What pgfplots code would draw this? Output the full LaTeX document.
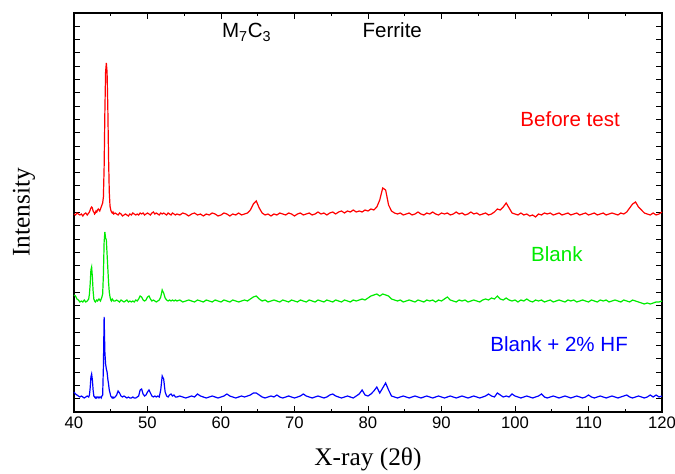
\documentclass[border=0pt]{standalone}
\usepackage{fontspec}
\setmainfont{Liberation Sans}
\newfontfamily\seriffont{Liberation Serif}
\usepackage{pgfplots}
\pgfplotsset{compat=1.18}
\usepackage{pgfplotstable}

\definecolor{xred}{RGB}{255,0,0}
\definecolor{xgreen}{RGB}{0,235,0}
\definecolor{xblue}{RGB}{0,0,255}

% XRD patterns, y in arbitrary (offset) units
\pgfplotstableread{
x r g b
40.0 198 117 20
40.2 197 116 18
40.4 199 113 17
40.6 198 112 16
40.8 197 110 15
41.0 198 111 16
41.2 196 110 15
41.4 198 112 14
41.6 199 110 15
41.8 197 111 16
42.0 199 113 15
42.1 200 118 17
42.2 202 128 24
42.3 204 142 35
42.4 205 145 38
42.5 204 135 32
42.6 201 121 22
42.7 200 113 16
42.8 198 111 15
42.9 199 110 14
43.0 201 111 15
43.1 200 112 14
43.2 202 111 15
43.3 203 112 15
43.4 202 113 14
43.5 201 112 15
43.6 203 111 15
43.7 205 113 14
43.8 207 115 16
43.9 209 118 17
44.0 215 137 45
44.1 245 170 95
44.2 300 180 60
44.3 340 174 48
44.4 349 172 43
44.5 340 158 40
44.6 305 144 33
44.7 255 130 28
44.8 220 120 22
44.9 206 115 19
45.0 202 112 16
45.1 200 111 15
45.2 199 113 14
45.3 200 112 15
45.4 198 111 14
45.6 199 111 15
45.8 198 112 17
46.0 197 111 21
46.2 199 110 19
46.4 198 112 16
46.6 196 111 15
46.8 197 110 16
47.0 198 111 15
47.2 197 112 14
47.4 196 110 15
47.6 198 111 14
47.8 197 110 14
48.0 199 111 15
48.2 198 110 14
48.4 197 112 14
48.6 198 111 15
48.8 197 113 16
49.0 199 116 22
49.2 198 115 23
49.4 199 112 18
49.6 197 111 16
49.8 198 112 17
50.0 199 115 20
50.2 198 116 22
50.4 197 113 19
50.6 199 111 16
50.8 200 112 15
51.0 198 111 16
51.2 199 110 15
51.4 198 111 16
51.6 197 112 15
51.8 199 115 22
52.0 198 122 36
52.2 199 119 33
52.4 198 114 20
52.6 197 112 16
52.8 199 111 15
53.0 198 112 17
53.2 197 111 18
53.4 199 112 16
53.6 198 111 17
53.8 197 112 15
54.0 198 111 15
54.4 197 112 16
54.8 199 110 15
55.2 198 111 14
55.6 196 112 15
56.0 198 111 16
56.4 199 110 15
56.8 197 112 18
57.2 198 111 16
57.6 196 110 15
58.0 198 112 14
58.4 197 111 15
58.8 199 110 16
59.2 198 112 15
59.6 196 111 14
60.0 197 110 15
60.4 199 112 16
60.8 198 111 18
61.2 196 110 16
61.6 198 112 15
62.0 197 111 14
62.4 199 110 15
62.8 197 111 16
63.2 198 112 15
63.6 199 111 16
64.0 202 113 17
64.4 208 115 19
64.8 211 116 19
65.2 204 113 17
65.6 199 111 15
66.0 197 112 14
66.4 198 110 15
66.8 196 111 16
67.2 198 112 15
67.6 197 111 17
68.0 199 110 15
68.4 198 112 14
68.8 197 111 15
69.2 199 110 16
69.6 198 112 15
70.0 196 111 14
70.4 198 110 15
70.8 199 112 16
71.2 197 111 18
71.6 198 110 16
72.0 199 112 15
72.4 197 111 14
72.8 198 110 15
73.2 200 112 16
73.6 198 111 15
74.0 199 110 14
74.4 197 112 15
74.8 199 111 17
75.2 200 110 18
75.6 198 112 16
76.0 200 111 15
76.4 201 110 14
76.8 199 112 15
77.2 201 111 16
77.6 200 110 15
78.0 202 112 14
78.4 200 111 16
78.8 201 112 18
79.2 200 113 22
79.6 202 112 17
80.0 201 114 16
80.4 203 116 18
80.8 202 117 21
81.2 205 118 25
81.6 212 116 19
82.0 224 118 24
82.4 222 117 29
82.8 207 116 22
83.2 201 113 16
83.6 199 112 15
84.0 198 111 14
84.4 199 112 15
84.8 197 110 16
85.2 198 111 15
85.6 199 112 14
86.0 197 111 15
86.4 198 110 16
86.8 200 112 15
87.2 198 111 14
87.6 197 110 15
88.0 199 112 16
88.4 198 111 15
88.8 200 112 14
89.2 198 110 15
89.6 197 112 16
90.0 199 111 15
90.4 198 113 14
90.8 199 115 15
91.2 197 112 16
91.6 198 111 15
92.0 200 110 14
92.4 198 112 15
92.8 199 111 16
93.2 197 112 15
93.6 198 110 14
94.0 200 111 15
94.4 198 112 16
94.8 199 111 15
95.2 197 110 14
95.6 198 112 15
96.0 199 113 16
96.4 197 112 18
96.8 198 114 16
97.2 200 113 15
97.6 203 116 19
98.0 202 113 17
98.4 205 112 15
98.8 209 114 16
99.2 204 112 15
99.6 199 111 18
100.0 198 112 16
100.4 197 110 15
100.8 199 112 14
101.2 197 111 15
101.6 198 113 16
102.0 196 111 15
102.4 197 110 14
102.8 195 112 15
103.2 198 111 16
103.6 197 112 18
104.0 199 110 15
104.4 198 111 14
104.8 199 112 15
105.2 197 110 16
105.6 198 111 15
106.0 199 112 14
106.4 197 111 15
106.8 198 110 16
107.2 199 112 15
107.6 197 111 14
108.0 198 112 15
108.4 199 110 16
108.8 197 111 15
109.2 198 112 14
109.6 199 111 15
110.0 197 110 17
110.4 198 112 15
110.8 199 111 14
111.2 197 110 15
111.6 198 112 16
112.0 199 111 15
112.4 197 112 14
112.8 198 110 15
113.2 199 111 16
113.6 198 112 15
114.0 197 111 14
114.4 199 110 15
114.8 198 112 16
115.2 200 111 17
115.6 204 110 15
116.0 208 112 14
116.4 210 111 15
116.8 205 110 16
117.2 202 109 15
117.6 199 108 14
118.0 198 109 15
118.4 197 108 17
118.8 199 109 15
119.2 197 110 17
119.6 198 110 15
120.0 200 111 16
}\xrd

\begin{document}
\begin{tikzpicture}
\begin{axis}[
    scale only axis,
    width=441pt, height=299.25pt,
    xmin=40, xmax=120, ymin=0, ymax=399,
    xtick distance=10, minor x tick num=1,
    ytick distance=13.3, yticklabel=\empty,
    tick align=inside,
    major tick length=4.5pt, minor tick length=2.5pt,
    tick style={black, line width=0.7pt},
    axis line style={line width=1.3pt},
    tick label style={font=\fontsize{12.5}{15}\selectfont},
    /pgf/number format/assume math mode=true,
    xlabel={\seriffont X-ray (2θ)},
    ylabel={\seriffont Intensity},
    label style={font=\fontsize{19}{22}\selectfont},
    xlabel style={at={(axis description cs:0.5,-0.118)}, anchor=center},
    ylabel style={at={(axis description cs:-0.085,0.5)}, anchor=center},
    every axis plot/.append style={line width=0.9pt},
    clip=false,
  ]
  \addplot[xred] table[x=x, y=r] {\xrd};
  \addplot[xgreen] table[x=x, y=g] {\xrd};
  \addplot[xblue] table[x=x, y=b] {\xrd};

  \node[anchor=base, font=\fontsize{15.4}{18}\selectfont] at (axis cs:63.5,374) {M\textsubscript{7}C\textsubscript{3}};
  \node[anchor=base, font=\fontsize{15.4}{18}\selectfont] at (axis cs:83.3,374) {Ferrite};
  \node[anchor=base, font=\fontsize{15.4}{18}\selectfont, text=xred] at (axis cs:107.5,285) {Before test};
  \node[anchor=base, font=\fontsize{15.4}{18}\selectfont, text=xgreen] at (axis cs:105.7,150) {Blank};
  \node[anchor=base, font=\fontsize{15.4}{18}\selectfont, text=xblue] at (axis cs:106.0,60) {Blank + 2\% HF};
\end{axis}
\pgfresetboundingbox
\path (-55.5pt,-46.5pt) rectangle (450.75pt,309pt);
\end{tikzpicture}
\end{document}
